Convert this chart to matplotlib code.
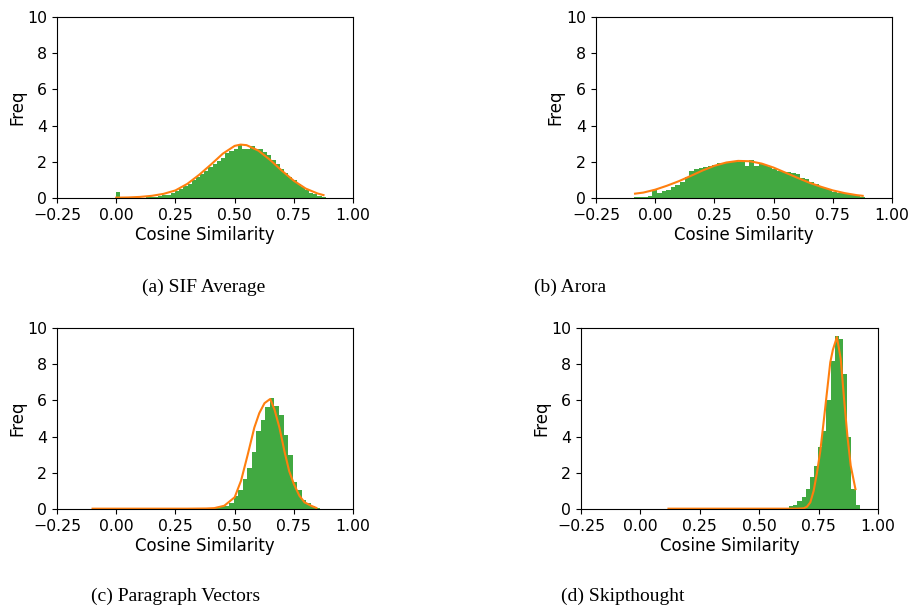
import numpy as np
import matplotlib
matplotlib.use("Agg")
import matplotlib.pyplot as plt

# === Histogram data (density) ===
# (a) SIF Average
sif_range = (0.0, 0.885)
sif_heights = [0.31, 0.0, 0.0, 0.01, 0.01, 0.02, 0.02, 0.03, 0.05, 0.07,
               0.10, 0.14, 0.19, 0.26, 0.38, 0.50, 0.65, 0.80, 0.98, 1.15,
               1.33, 1.50, 1.70, 1.88, 2.02, 2.22, 2.48, 2.60, 2.70, 2.95,
               2.70, 2.72, 2.90, 2.72, 2.70, 2.55, 2.38, 2.12, 1.88, 1.60,
               1.40, 1.15, 0.98, 0.80, 0.60, 0.42, 0.30, 0.20, 0.12, 0.06]
sif_fit_x = [0.0, 0.05, 0.1, 0.15, 0.2, 0.25, 0.3, 0.35, 0.4, 0.45, 0.5, 0.525,
             0.55, 0.6, 0.65, 0.7, 0.75, 0.8, 0.85, 0.875]
sif_fit_y = [0.02, 0.03, 0.06, 0.12, 0.23, 0.42, 0.78, 1.28, 1.85, 2.45, 2.88, 2.95,
             2.92, 2.62, 2.10, 1.50, 0.95, 0.52, 0.25, 0.16]

# (b) Arora
arora_range = (-0.09, 0.885)
arora_heights = [0.04, 0.06, 0.08, 0.12, 0.45, 0.30, 0.38, 0.45, 0.60, 0.72,
                 0.90, 1.15, 1.50, 1.58, 1.65, 1.72, 1.78, 1.85, 1.92, 1.95,
                 2.00, 2.02, 2.00, 2.05, 1.78, 2.12, 1.75, 1.90, 1.80, 1.70,
                 1.60, 1.50, 1.45, 1.42, 1.38, 1.30, 1.10, 1.05, 0.90, 0.75,
                 0.60, 0.55, 0.45, 0.35, 0.30, 0.25, 0.20, 0.15, 0.10, 0.06]
arora_fit_x = [-0.085, -0.05, 0.0, 0.05, 0.1, 0.15, 0.2, 0.25, 0.3, 0.35, 0.4,
               0.45, 0.5, 0.55, 0.6, 0.65, 0.7, 0.75, 0.8, 0.85, 0.876]
arora_fit_y = [0.24, 0.30, 0.46, 0.68, 0.93, 1.22, 1.52, 1.78, 1.96, 2.05, 2.03,
               1.90, 1.68, 1.40, 1.12, 0.85, 0.62, 0.42, 0.27, 0.16, 0.12]

# (c) Paragraph Vectors
pv_range = (-0.1, 0.86)
pv_heights = [0.0, 0.0, 0.0, 0.0, 0.0, 0.01, 0.06, 0.01, 0.0, 0.0,
              0.0, 0.0, 0.0, 0.0, 0.0, 0.0, 0.0, 0.0, 0.0, 0.0,
              0.0, 0.01, 0.01, 0.01, 0.02, 0.02, 0.03, 0.06, 0.10, 0.18,
              0.35, 0.70, 1.05, 1.65, 2.25, 3.15, 4.30, 4.90, 5.65, 6.15,
              5.70, 5.20, 4.10, 3.00, 1.50, 1.05, 0.50, 0.33, 0.18, 0.08]
pv_fit_x = [-0.1, 0.0, 0.1, 0.2, 0.3, 0.38, 0.414, 0.456, 0.5, 0.527, 0.555, 0.583,
            0.604, 0.626, 0.65, 0.668, 0.689, 0.71, 0.73, 0.75, 0.773, 0.795, 0.823, 0.845]
pv_fit_y = [0.02, 0.02, 0.02, 0.02, 0.02, 0.03, 0.05, 0.18, 0.65, 1.57, 3.00, 4.50,
            5.30, 5.85, 6.08, 5.50, 4.50, 3.20, 2.10, 1.38, 0.74, 0.37, 0.18, 0.06]

# (d) Skipthought
st_range = (0.118, 0.923)
st_heights = [0.01, 0.0, 0.0, 0.0, 0.0, 0.0, 0.0, 0.0, 0.08, 0.0,
              0.0, 0.0, 0.0, 0.0, 0.0, 0.0, 0.0, 0.0, 0.0, 0.0,
              0.01, 0.01, 0.01, 0.01, 0.02, 0.02, 0.02, 0.04, 0.07, 0.14,
              0.25, 0.42, 0.68, 1.12, 1.75, 2.40, 3.40, 4.33, 6.00, 8.20,
              9.55, 9.40, 7.46, 3.96, 1.10, 0.20]
st_fit_x = [0.118, 0.2, 0.3, 0.4, 0.5, 0.6, 0.66, 0.687, 0.701, 0.715, 0.729, 0.743,
            0.757, 0.771, 0.785, 0.799, 0.81, 0.827, 0.843, 0.857, 0.871, 0.885, 0.905]
st_fit_y = [0.02, 0.02, 0.02, 0.02, 0.02, 0.02, 0.02, 0.04, 0.13, 0.37, 1.00, 2.00,
            3.20, 4.80, 6.45, 8.10, 8.80, 9.50, 8.30, 6.10, 4.05, 2.40, 1.10]

captions = ["(a) SIF Average", "(b) Arora", "(c) Paragraph Vectors", "(d) Skipthought"]

panels = [
    (sif_range, sif_heights, sif_fit_x, sif_fit_y),
    (arora_range, arora_heights, arora_fit_x, arora_fit_y),
    (pv_range, pv_heights, pv_fit_x, pv_fit_y),
    (st_range, st_heights, st_fit_x, st_fit_y),
]

# axes boxes [left, bottom, width, height] in figure fraction
boxes = [
    [0.0626, 0.6738, 0.325, 0.2982],
    [0.6542, 0.6738, 0.325, 0.2982],
    [0.0626, 0.1614, 0.325, 0.2982],
    [0.6378, 0.1614, 0.326, 0.2982],
]
caption_pos = [(0.224, 0.527), (0.626, 0.527), (0.193, 0.018), (0.684, 0.018)]

fig = plt.figure(figsize=(9.11, 6.07), dpi=100)

for (rng, heights, fx, fy), box, cap, cpos in zip(panels, boxes, captions, caption_pos):
    ax = fig.add_axes(box)
    edges = np.linspace(rng[0], rng[1], len(heights) + 1)
    ax.bar(edges[:-1], heights, width=np.diff(edges), align='edge',
           color='#2ca02c', alpha=0.9, linewidth=0)
    ax.plot(fx, fy, color='#ff7f0e', linewidth=1.5)
    ax.set_xlim(-0.25, 1.0)
    ax.set_ylim(0, 10)
    ax.set_xticks([-0.25, 0.0, 0.25, 0.5, 0.75, 1.0])
    ax.set_yticks([0, 2, 4, 6, 8, 10])
    ax.tick_params(labelsize=11.3)
    ax.set_xlabel("Cosine Similarity", fontsize=12, labelpad=2)
    ax.set_ylabel("Freq", fontsize=12, labelpad=1)
    fig.text(cpos[0], cpos[1], cap, ha='center', va='center',
             family='Liberation Serif', fontsize=14)

plt.savefig("out.png", dpi=100)
